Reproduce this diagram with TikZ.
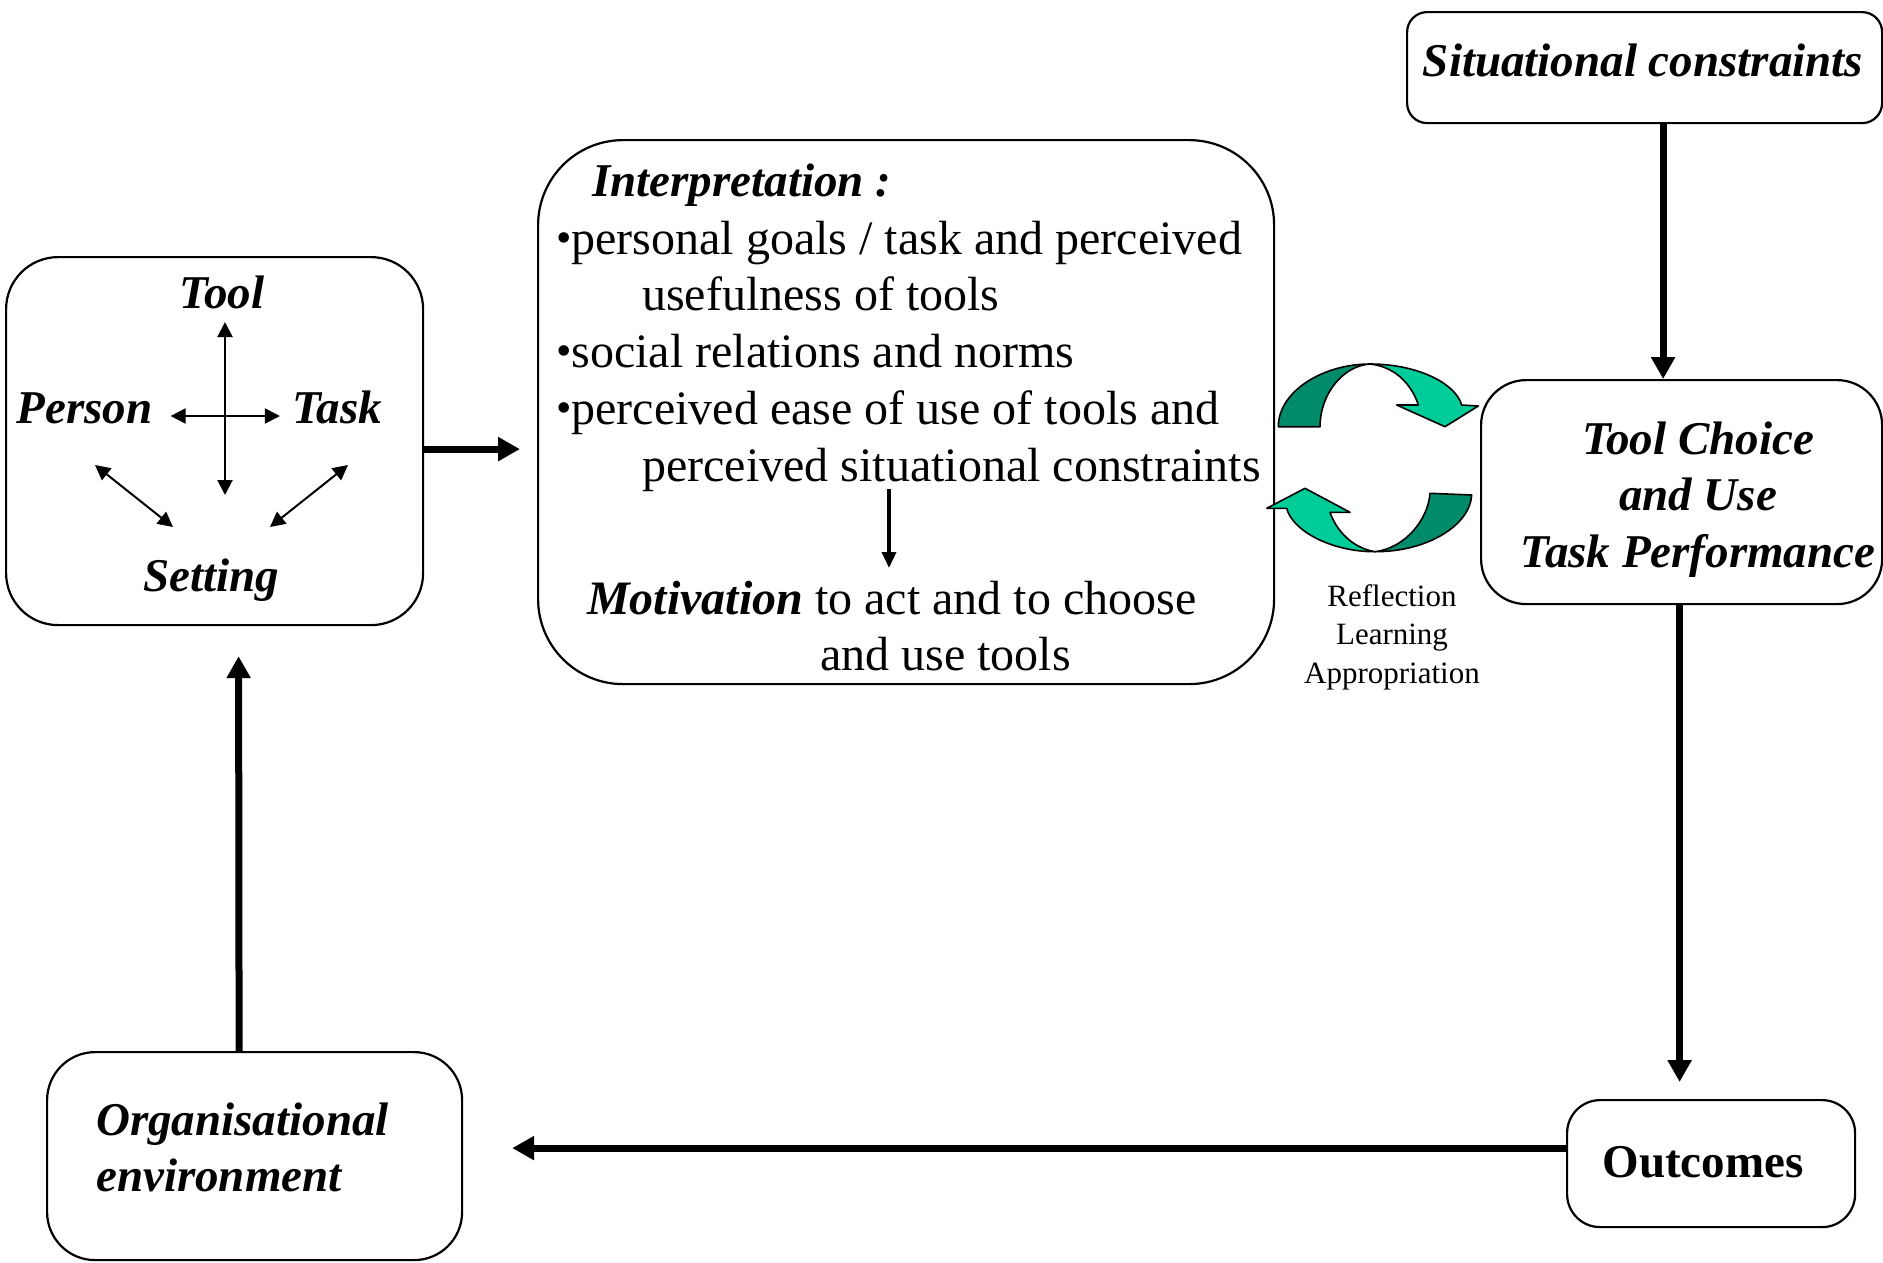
\documentclass[tikz,border=0pt]{standalone}
\usepackage{fontspec}
\setmainfont{Liberation Serif}
\usetikzlibrary{arrows.meta,calc}
\definecolor{ribbondark}{RGB}{0,140,106}
\definecolor{ribbonlight}{RGB}{0,204,153}
\begin{document}
\begin{tikzpicture}[x=1pt,y=-1pt,
  box/.style={draw, line width=2.2pt, inner sep=0pt, anchor=north west},
  lbl/.style={inner sep=0pt, anchor=base, font=\fontsize{47}{57}\selectfont\bfseries\itshape},
  body/.style={inner sep=0pt, anchor=base west, font=\fontsize{48}{57}\selectfont},
  flow/.style={line width=7pt, -{Triangle[width=23pt,length=22pt]}},
  link/.style={line width=2pt, {Triangle[width=15pt,length=15pt]}-{Triangle[width=15pt,length=15pt]}},
  inner arrow/.style={line width=3.5pt, -{Triangle[width=14pt,length=16pt]}},
  ribbon/.style={draw=black, line width=1.6pt, line join=round}]

\fill[white] (0,0) rectangle (1883,1262);
\useasboundingbox (0,0) rectangle (1883,1262);

% boxes
\node[box, rounded corners=20pt, minimum width=475pt, minimum height=111pt] (sit) at (1406,11) {};
\node[box, rounded corners=45pt, minimum width=401pt, minimum height=224pt] (tc) at (1480,379) {};
\node[box, rounded corners=33pt, minimum width=288pt, minimum height=127pt] (out) at (1566,1099) {};
\node[box, rounded corners=48pt, minimum width=415pt, minimum height=208pt] (org) at (46,1051) {};
\node[box, rounded corners=52pt, minimum width=417pt, minimum height=368pt] (ctx) at (5,256) {};
\node[box, rounded corners=85pt, minimum width=736pt, minimum height=544pt] (interp) at (537,139) {};

% box labels
\node[lbl] (sitT) at (1643,76) {Situational constraints};
\node[lbl] (tc1) at (1698,454) {Tool Choice};
\node[lbl] (tc2) at (1698,510) {and Use};
\node[lbl] (tc3) at (1698,567) {Task Performance};
\node[inner sep=0pt, anchor=base, font=\fontsize{47}{57}\selectfont\bfseries] (outT) at (1703,1177) {Outcomes};
\node[lbl, anchor=base west] (org1) at (96,1135) {Organisational};
\node[lbl, anchor=base west] (org2) at (96,1191) {environment};

% person / task / tool / setting
\node[lbl] (tool) at (222,308) {Tool};
\node[lbl] (person) at (84.5,423) {Person};
\node[lbl] (task) at (337,423) {Task};
\node[lbl] (set) at (211.5,591) {Setting};
\draw[link] ($(tool.base)+(3,14)$) -- ($(set.base)+(13.5,-96)$);
\draw[link] ($(person.base east)+(18,-7)$) -- ($(task.base west)+(-12,-7)$);
\draw[link] ($(person.base)+(10.5,42)$) -- ($(set.base)+(-38.5,-64)$);
\draw[link] ($(task.base)+(11,42)$) -- ($(set.base)+(58.5,-64)$);

% interpretation text
\newcommand{\itembullet}{{\fontsize{44}{44}\selectfont\raisebox{2pt}{•}}}
\node[lbl, anchor=base west] (l0) at (592,196) {Interpretation :};
\node[body] (l1) at (556,254) {\itembullet personal goals / task and perceived};
\node[body] (l2) at (642,310) {usefulness of tools};
\node[body] (l3) at (556,367) {\itembullet social relations and norms};
\node[body] (l4) at (556,424) {\itembullet perceived ease of use of tools and};
\node[body] (l5) at (642,481) {perceived situational constraints};
\node[body] (mot) at (587,614) {\textbf{\textit{Motivation}} to act and to choose};
\node[body] (mot2) at (820,670) {and use tools};
\draw[inner arrow] ($(l5.base west)+(247,8)$) -- ($(mot.base west)+(302,-46)$);

% reflection ribbons
\filldraw[ribbon, fill=ribbondark] (1278.3,426.7) .. controls (1278.3,392) and (1322,364) .. (1370,364)
  .. controls (1342,366) and (1320,395) .. (1320,426.7) -- cycle;
\filldraw[ribbon, fill=ribbonlight] (1370,364) .. controls (1415,364) and (1455,382) .. (1461.7,405)
  -- (1478.3,406) -- (1445,426.7) -- (1396.7,405) -- (1418.3,405)
  .. controls (1413,388) and (1398,367) .. (1370,364) -- cycle;
\filldraw[ribbon, fill=ribbondark] (1471.7,495) .. controls (1470,525) and (1428,551.7) .. (1375,551.7)
  .. controls (1405,548) and (1428,520) .. (1430,493.3) -- cycle;
\filldraw[ribbon, fill=ribbonlight] (1375,551.7) .. controls (1330,551.7) and (1292,530) .. (1286.7,508.3)
  -- (1266.7,508.3) -- (1305,488.3) -- (1350,512.3) -- (1330,512.3)
  .. controls (1336,530) and (1352,548) .. (1375,551.7) -- cycle;
\node[inner sep=0pt, anchor=north, align=center, font=\fontsize{31}{38.5}\selectfont] (refl) at (1392,584) {Reflection\\Learning\\Appropriation};

% main flow
\draw[flow] ($(sit.south)+(18.5,0)$) -- ($(tc.north)+(-18.5,0)$);
\draw[flow] ($(tc.south)+(-2,0)$) -- ($(out.north)+(-31.5,-17)$);
\draw[flow] ($(out.west)+(0,-15.5)$) -- ($(org.east)+(49,-8)$);
\draw[flow] ($(org.north)+(-15.5,0)$) -- ($(ctx.south)+(24,30)$);
\draw[flow] ($(ctx.east)+(0,8)$) -- ($(interp.west)+(-17,37)$);
\end{tikzpicture}
\end{document}
